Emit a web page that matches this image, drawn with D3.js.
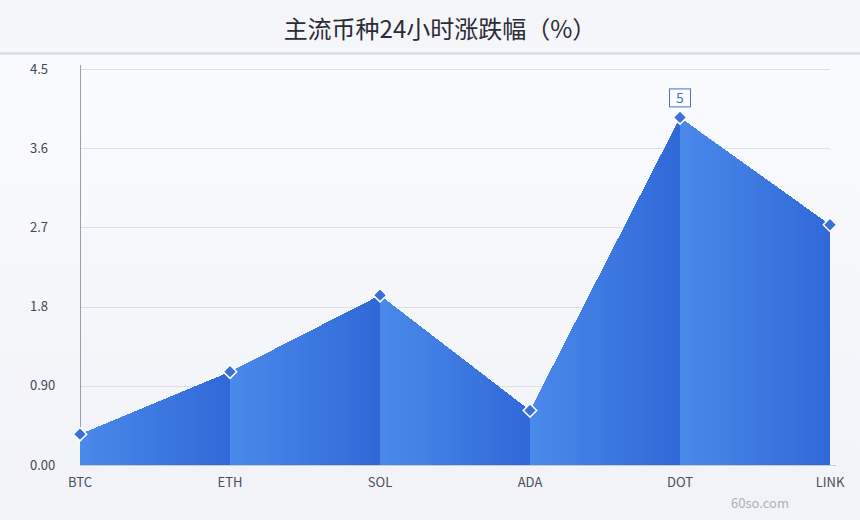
<!DOCTYPE html>
<html>
<head>
<meta charset="utf-8">
<style>
  html, body { margin: 0; padding: 0; background: #f4f5f9; }
  svg { display: block; font-family: "Noto Sans CJK SC", "Noto Sans", sans-serif; }
</style>
</head>
<body>
<div id="chart"></div>
<script src="https://d3js.org/d3.v7.min.js"></script>
<script>
const title = "主流币种24小时涨跌幅（%）";
const categories = ["BTC", "ETH", "SOL", "ADA", "DOT", "LINK"];
const values = [0.35, 1.06, 1.93, 0.62, 3.95, 2.73];
const yTicks = [0, 0.9, 1.8, 2.7, 3.6, 4.5];
const yTickLabels = ["0.00", "0.90", "1.8", "2.7", "3.6", "4.5"];
const peakLabel = "5";
const peakIndex = 4;

const width = 860, height = 520;
const margin = { top: 69, right: 30, bottom: 55, left: 80 };

const svg = d3.select("#chart").append("svg")
    .attr("width", width)
    .attr("height", height);

const defs = svg.append("defs");

const bg = defs.append("linearGradient")
    .attr("id", "bg").attr("x1", 0).attr("y1", 0).attr("x2", 0).attr("y2", 1);
bg.append("stop").attr("offset", "0%").attr("stop-color", "#fbfcff");
bg.append("stop").attr("offset", "100%").attr("stop-color", "#f1f3f8");

const seg = defs.append("linearGradient")
    .attr("id", "seg").attr("x1", 0).attr("y1", 0).attr("x2", 1).attr("y2", 0);
seg.append("stop").attr("offset", "0%").attr("stop-color", "#4a8aea");
seg.append("stop").attr("offset", "100%").attr("stop-color", "#3068d8");

// backgrounds
svg.append("rect").attr("width", width).attr("height", height).attr("fill", "url(#bg)");
svg.append("rect").attr("width", width).attr("height", 53).attr("fill", "#f5f6fa");
svg.append("rect").attr("y", 52).attr("width", width).attr("height", 3).attr("fill", "#dde0e8");

svg.append("text")
    .attr("x", width / 2 + 10)
    .attr("y", 38)
    .attr("text-anchor", "middle")
    .attr("font-size", 24)
    .attr("fill", "#2b2c36")
    .text(title);

const x = d3.scalePoint()
    .domain(categories)
    .range([margin.left, width - margin.right]);

const y = d3.scaleLinear()
    .domain([0, 4.5])
    .range([height - margin.bottom, margin.top]);

// grid
svg.append("g")
    .selectAll("line")
    .data(yTicks)
    .join("line")
    .attr("x1", margin.left)
    .attr("x2", width - margin.right)
    .attr("y1", d => Math.round(y(d)) + 0.5)
    .attr("y2", d => Math.round(y(d)) + 0.5)
    .attr("stroke", "#dde0e8")
    .attr("stroke-width", 1);

// y labels
svg.append("g")
    .selectAll("text")
    .data(yTicks)
    .join("text")
    .attr("x", 30)
    .attr("y", d => y(d))
    .attr("dy", "0.35em")
    .attr("font-size", 13)
    .attr("fill", "#444852")
    .text((d, i) => yTickLabels[i]);

// y axis line
svg.append("line")
    .attr("x1", margin.left + 0.5).attr("x2", margin.left + 0.5)
    .attr("y1", margin.top - 4).attr("y2", y(0))
    .attr("stroke", "#9aa0aa");

// x axis line
svg.append("line")
    .attr("x1", margin.left).attr("x2", width - margin.right + 6)
    .attr("y1", Math.round(y(0)) + 0.5).attr("y2", Math.round(y(0)) + 0.5)
    .attr("stroke", "#c8ccd4");

// area segments, each with its own horizontal gradient
const pts = categories.map((c, i) => ({ c, v: values[i] }));
const segments = d3.pairs(pts);
const area = d3.area()
    .x(d => x(d.c))
    .y0(y(0))
    .y1(d => y(d.v));

svg.append("g")
    .selectAll("path")
    .data(segments)
    .join("path")
    .attr("d", d => area(d))
    .attr("fill", "url(#seg)")
    .attr("shape-rendering", "crispEdges");

// markers
svg.append("g")
    .selectAll("path")
    .data(pts)
    .join("path")
    .attr("d", d3.symbol(d3.symbolSquare, 90))
    .attr("transform", d => `translate(${x(d.c)},${y(d.v)}) rotate(45)`)
    .attr("fill", "#3a6ed8")
    .attr("stroke", "#ffffff")
    .attr("stroke-width", 1.5);

// peak label
const px = x(categories[peakIndex]), py = y(values[peakIndex]);
svg.append("rect")
    .attr("x", px - 10.5).attr("y", py - 28.5)
    .attr("width", 21).attr("height", 18)
    .attr("fill", "#fbfcff")
    .attr("stroke", "#4a72c4")
    .attr("stroke-width", 1);
svg.append("text")
    .attr("x", px).attr("y", py - 19)
    .attr("dy", "0.35em")
    .attr("text-anchor", "middle")
    .attr("font-size", 14)
    .attr("fill", "#4a6fc0")
    .text(peakLabel);

// x labels
svg.append("g")
    .selectAll("text")
    .data(categories)
    .join("text")
    .attr("x", d => x(d))
    .attr("y", 482)
    .attr("dy", "0.35em")
    .attr("text-anchor", "middle")
    .attr("font-size", 13)
    .attr("fill", "#4a4e58")
    .text(d => d);

svg.append("text")
    .attr("x", 760).attr("y", 503)
    .attr("dy", "0.35em")
    .attr("text-anchor", "middle")
    .attr("font-size", 13)
    .attr("fill", "#aab0bc")
    .text("60so.com");
</script>
</body>
</html>
